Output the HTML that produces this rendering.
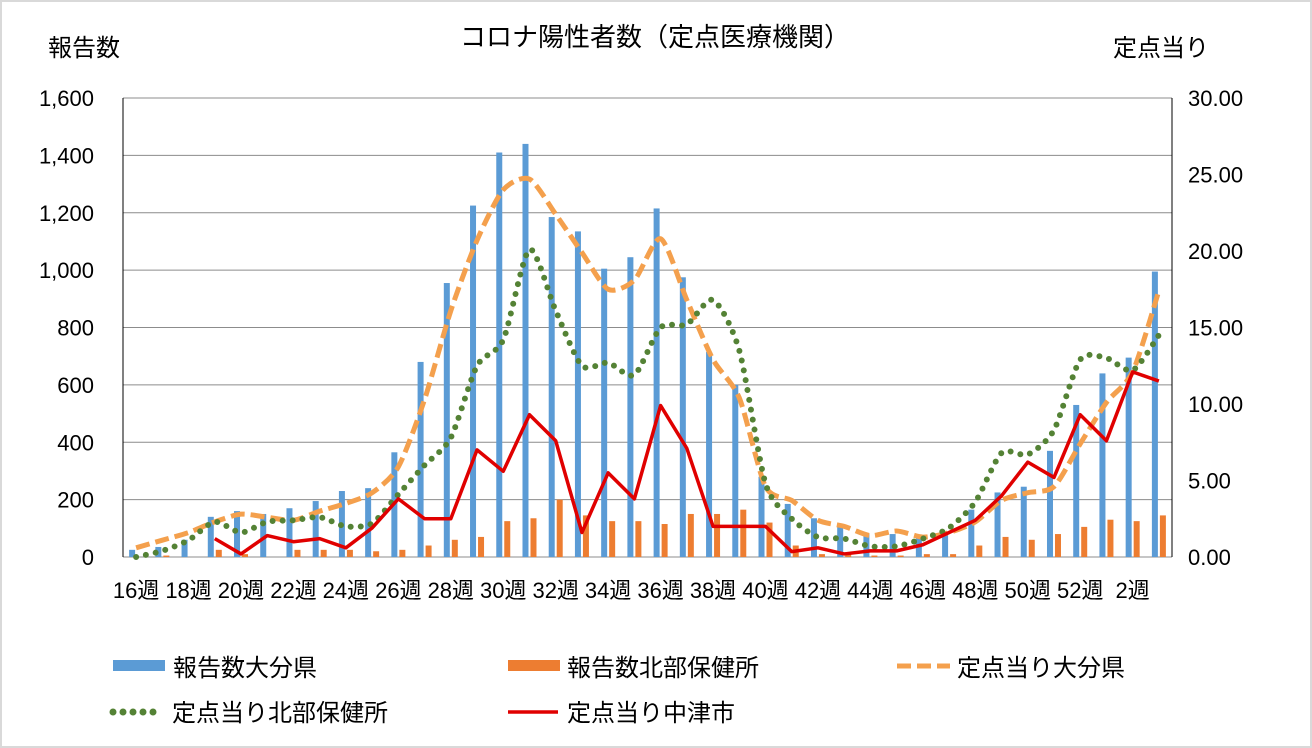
<!DOCTYPE html>
<html><head><meta charset="utf-8">
<style>
html,body{margin:0;padding:0;background:#fff;}
svg{display:block;font-family:"Liberation Sans","Noto Sans CJK JP",sans-serif;}
</style></head>
<body>
<svg id="c" width="1312" height="748" viewBox="0 0 1312 748" xmlns="http://www.w3.org/2000/svg">
<rect x="1" y="1" width="1310" height="746" fill="#fff" stroke="#d9d9d9" stroke-width="2"/>
<text x="655" y="46" font-size="26" text-anchor="middle" fill="#000">コロナ陽性者数（定点医療機関）</text>
<text x="48" y="56" font-size="24" fill="#000">報告数</text>
<text x="1113" y="56" font-size="24" fill="#000">定点当り</text>
<g id="grid"></g>
<g id="bars"></g>
<g id="lines"></g>
<g id="labels" fill="#000"></g>
<g font-size="24" fill="#000">
<rect x="113" y="660" width="52" height="11" fill="#5b9bd5"/>
<text x="173" y="676">報告数大分県</text>
<rect x="508" y="660" width="52" height="11" fill="#ed7d31"/>
<text x="567" y="676">報告数北部保健所</text>
<line x1="897" y1="666" x2="950" y2="666" stroke="#f4a04d" stroke-width="5" stroke-dasharray="14 6"/>
<text x="957" y="676">定点当り大分県</text>
<line x1="113" y1="712" x2="162" y2="712" stroke="#548235" stroke-width="7" stroke-linecap="round" stroke-dasharray="0 10"/>
<text x="172" y="721">定点当り北部保健所</text>
<line x1="508" y1="712" x2="558" y2="712" stroke="#e00000" stroke-width="3.5"/>
<text x="567" y="721">定点当り中津市</text>
</g>
</svg>
<script>
var NS="http://www.w3.org/2000/svg";
function el(p,t,a){var e=document.createElementNS(NS,t);for(var k in a)e.setAttribute(k,a[k]);document.getElementById(p).appendChild(e);return e;}
var L=123,R=1172,T=98,B=557,n=40,w=(R-L)/n;
function yl(v){return B-(B-T)*v/1600;}
function yr(v){return B-(B-T)*v/30;}
function xc(i){return L+w*(i+0.5);}
for(var k=0;k<=8;k++){var y=yl(k*200);
 el("grid","line",{x1:L,x2:R,y1:y,y2:y,stroke:"#8c8c8c","stroke-width":1});
 var t=el("labels","text",{x:94,y:y+8,"text-anchor":"end","font-size":22});t.textContent=(k*200).toLocaleString("en-US");
}
for(var j=0;j<=6;j++){var t=el("labels","text",{x:1188,y:yr(j*5)+8,"font-size":22});t.textContent=(j*5).toFixed(2);}
el("grid","line",{x1:L,x2:L,y1:T,y2:B,stroke:"#000","stroke-width":1});
el("grid","line",{x1:R,x2:R,y1:T,y2:B,stroke:"#000","stroke-width":1});
var blue=[25,35,60,140,160,150,170,195,230,240,365,680,955,1225,1410,1440,1185,1135,1005,1045,1215,975,715,600,280,185,135,110,80,80,65,80,165,225,245,370,530,640,695,995];
var org=[0,5,0,25,10,0,25,25,25,20,25,40,60,70,125,135,200,145,125,125,115,150,150,165,120,40,10,10,5,5,10,10,40,70,60,80,105,130,125,145];
for(var i=0;i<n;i++){
 el("bars","rect",{x:xc(i)-7,y:yl(blue[i]),width:6,height:B-yl(blue[i]),fill:"#5b9bd5"});
 if(org[i]>0)el("bars","rect",{x:xc(i)+1,y:yl(org[i]),width:6,height:B-yl(org[i]),fill:"#ed7d31"});
}
var od=[0.6,1.1,1.6,2.3,2.8,2.6,2.4,3.0,3.5,4.2,5.9,10.3,16.1,20.7,24.0,24.7,22.4,19.9,17.5,18.1,20.8,16.8,12.9,10.4,4.6,3.7,2.4,2.0,1.4,1.7,1.3,1.6,2.3,3.7,4.2,4.6,7.4,10.1,12.1,17.4];
var gr=[0,0.4,1.1,2.3,1.6,2.3,2.4,2.6,2.0,2.2,4.1,6.0,7.8,12.5,14.2,20.1,16.1,12.5,12.7,11.9,15.0,15.2,16.8,13.5,4.8,2.5,1.3,1.2,0.7,0.7,1.2,1.9,3.6,6.8,6.7,8.3,12.9,13.0,12.2,14.5];
var rd=[null,null,null,1.2,0.2,1.4,1.0,1.2,0.6,1.9,3.8,2.5,2.5,7.0,5.6,9.3,7.6,1.6,5.5,3.8,9.9,7.1,2.0,2.0,2.0,0.35,0.6,0.2,0.4,0.4,0.8,1.6,2.4,4.0,6.2,5.2,9.3,7.6,12.1,11.5];
function smooth(arr){var p=[];for(var i=0;i<arr.length;i++)if(arr[i]!=null)p.push([xc(i),yr(arr[i])]);
 var d="M"+p[0][0]+","+p[0][1];
 for(var i=0;i<p.length-1;i++){var p0=p[Math.max(0,i-1)],p1=p[i],p2=p[i+1],p3=p[Math.min(p.length-1,i+2)];
  var c1x=p1[0]+(p2[0]-p0[0])/8,c1y=p1[1]+(p2[1]-p0[1])/8,c2x=p2[0]-(p3[0]-p1[0])/8,c2y=p2[1]-(p3[1]-p1[1])/8;
  d+="C"+c1x+","+c1y+" "+c2x+","+c2y+" "+p2[0]+","+p2[1];}
 return d;}
function poly(arr){var s=[];for(var i=0;i<arr.length;i++)if(arr[i]!=null)s.push(xc(i)+","+yr(arr[i]));return s.join(" ");}
el("lines","path",{d:smooth(od),fill:"none",stroke:"#f4a04d","stroke-width":5,"stroke-dasharray":"14 6"});
el("lines","path",{d:smooth(gr),fill:"none",stroke:"#548235","stroke-width":6,"stroke-linecap":"round","stroke-dasharray":"0 10"});
el("lines","polyline",{points:poly(rd),fill:"none",stroke:"#e00000","stroke-width":3.5,"stroke-linejoin":"round"});
for(var i=0;i<n;i+=2){var lab=i<=36?(16+i)+"週":"2週";
 var t=el("labels","text",{x:xc(i),y:598,"text-anchor":"middle","font-size":22});t.textContent=lab;}
</script>
</body></html>
